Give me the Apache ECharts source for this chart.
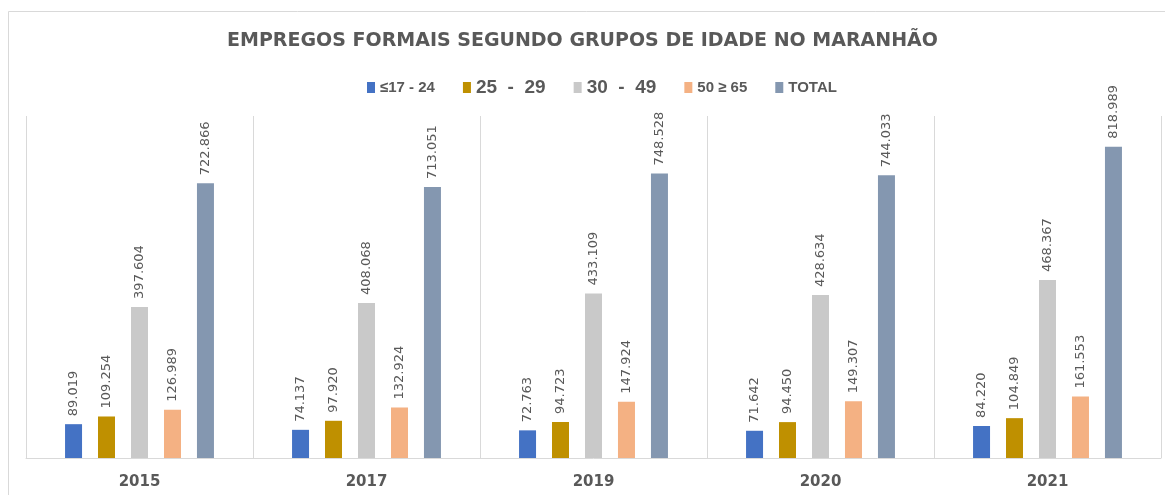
<!DOCTYPE html>
<html>
<head>
<meta charset="utf-8">
<script src="https://cdn.jsdelivr.net/npm/echarts@6/dist/echarts.min.js"></script>
<style>
  html, body { margin: 0; padding: 0; background: #fff; }
  #main { width: 1165px; height: 495px; }
</style>
</head>
<body>
<div id="main"></div>
<script>
// dados do gráfico
var anos = ['2015', '2017', '2019', '2020', '2021']
var grupos = ['≤17 - 24', '25  -  29', '30  -  49', '50 ≥ 65', 'TOTAL']
var ate24 = [89019, 74137, 72763, 71642, 84220]
var de25a29 = [109254, 97920, 94723, 94450, 104849]
var de30a49 = [397604, 408068, 433109, 428634, 468367]
var de50a65 = [126989, 132924, 147924, 149307, 161553]
var total = [722866, 713051, 748528, 744033, 818989]

var cores = ['#4472C4', '#BF9000', '#C9C9C9', '#F4B183', '#8497B0']
var valores = [ate24, de25a29, de30a49, de50a65, total]

function fmt(v) {
  // separador de milhar com ponto
  return String(v).replace(/\B(?=(\d{3})+(?!\d))/g, '.')
}

var chart = echarts.init(document.getElementById('main'))

var series = grupos.map(function (nome, i) {
  return {
    name: nome,
    type: 'bar',
    data: valores[i],
    barWidth: 17,
    barGap: '94%',
    itemStyle: { color: cores[i] },
    label: {
      show: true,
      position: 'top',
      rotate: 90,
      align: 'left',
      verticalAlign: 'middle',
      distance: 8,
      color: '#595959',
      fontSize: 13,
      fontFamily: 'DejaVu Sans',
      formatter: function (p) { return fmt(p.value) }
    }
  }
})

var legendSizes = [15, 19, 19, 15, 15]

chart.setOption({
  backgroundColor: '#fff',
  animation: false,
  title: {
    text: 'EMPREGOS FORMAIS SEGUNDO GRUPOS DE IDADE NO MARANHÃO',
    left: 'center',
    top: 27,
    textStyle: {
      color: '#595959',
      fontSize: 19,
      fontWeight: 'bold',
      fontFamily: 'DejaVu Sans'
    }
  },
  legend: {
    top: 73,
    left: 362,
    itemWidth: 8,
    itemHeight: 11,
    itemGap: 28,
    icon: 'rect',
    data: grupos.map(function (g, i) {
      return {
        name: g,
        textStyle: { fontSize: legendSizes[i], fontWeight: 'bold', color: '#595959', fontFamily: 'Liberation Sans Narrow, Liberation Sans' }
      }
    })
  },
  grid: { left: 26, right: 4, top: 116, bottom: 37 },
  xAxis: {
    type: 'category',
    data: anos,
    axisLine: { lineStyle: { color: '#D9D9D9' } },
    axisTick: { show: false },
    splitLine: { show: true, lineStyle: { color: '#D9D9D9' } },
    axisLabel: {
      color: '#595959',
      fontSize: 15,
      fontWeight: 'bold',
      fontFamily: 'DejaVu Sans',
      margin: 17
    }
  },
  yAxis: {
    type: 'value',
    min: 0,
    max: 900000,
    show: false,
    splitLine: { show: false }
  },
  graphic: [{
    type: 'polyline',
    shape: { points: [[8.5, 495], [8.5, 11.5], [1165, 11.5]] },
    style: { stroke: '#D9D9D9', fill: null, lineWidth: 1 }
  }],
  series: series
})
</script>
</body>
</html>
